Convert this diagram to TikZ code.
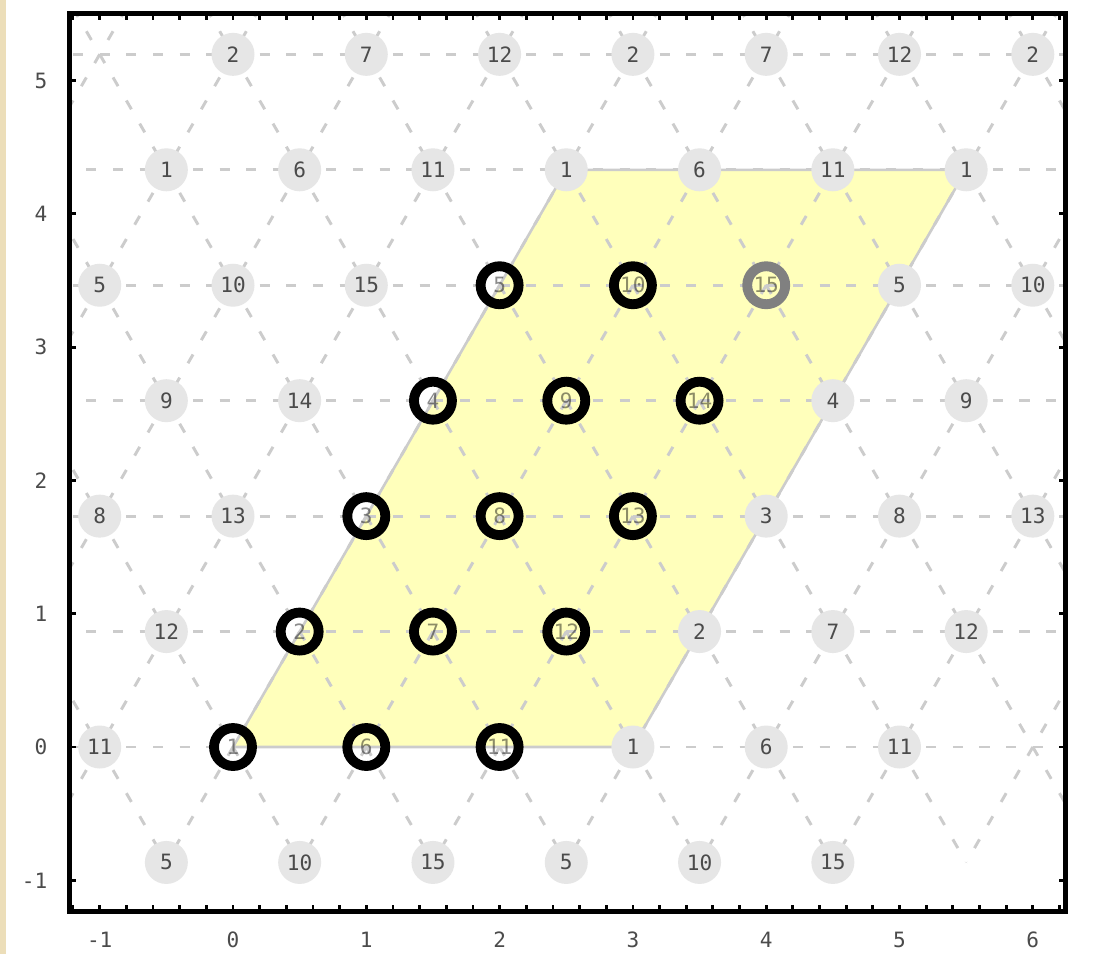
\documentclass[tikz,border=0pt]{standalone}
\usepackage{fontspec}
\newfontfamily\lblfont{DejaVu Sans Mono}
\definecolor{beige}{RGB}{236,222,185}
\definecolor{paleyellow}{RGB}{255,255,187}
\definecolor{meshgray}{RGB}{204,204,204}
\definecolor{diskgray}{RGB}{230,230,230}
\definecolor{ringgray}{RGB}{128,128,128}
\definecolor{labelgray}{RGB}{75,75,75}
\tikzset{
  mesh/.style={draw=meshgray, line width=1.25pt, dash pattern=on 4.3pt off 7.08pt},
  cellborder/.style={draw=meshgray, line width=1.1pt},
  disk/.style={circle, fill=diskgray, minimum size=0.645cm, inner sep=0pt,
    font=\lblfont\fontsize{9}{9}\selectfont, text=labelgray},
  ring/.style={circle, draw=black, line width=4.2pt, minimum size=0.57cm, inner sep=0pt,
    font=\lblfont\fontsize{9}{9}\selectfont, text=black, text opacity=0.45},
  grayring/.style={ring, draw=ringgray},
  tick/.style={line width=1.2pt, black},
  axlab/.style={font=\lblfont\fontsize{9}{9}\selectfont, text=labelgray, inner sep=0pt}
}
\begin{document}
\begin{tikzpicture}[x=2cm,y=2cm]
\def\sq{0.8660254}
% background and margins
\fill[white] (-1.748,-1.553) rectangle (6.489,5.604);
\useasboundingbox (-1.748,-1.553) rectangle (6.489,5.604);
\fill[beige] (-1.748,-1.553) rectangle (-1.703,5.604);
% fundamental cell
\fill[paleyellow] (0,0) -- (3,0) -- (5.5,4.330127) -- (2.5,4.330127) -- cycle;
% lattice mesh
\begin{scope}
\clip (-1.227,-1.234) rectangle (6.242,5.5);
\foreach \j in {0,...,7} {
  \foreach \i in {-6,...,8} {
    \pgfmathsetmacro\x{\i+0.5*\j}
    \pgfmathsetmacro\y{\sq*\j}
    \draw[mesh] (\x,\y) -- ++(1,0);
    \draw[mesh] (\x,\y) -- ++(-0.5,-\sq);
    \draw[mesh] (\x,\y) -- ++(0.5,-\sq);
  }
}
\end{scope}
\draw[cellborder] (0,0) -- (3,0) -- (5.5,4.330127) -- (2.5,4.330127) -- cycle;
% lattice points
\foreach \j in {-1,...,6} {
  \foreach \i in {-3,...,5} {
    \pgfmathsetmacro\x{\i+0.5*\j}
    \pgfmathsetmacro\y{\sq*\j}
    \pgfmathtruncatemacro\lab{1+mod(\j+10,5)+5*mod(\i+9,3)}
    \pgfmathtruncatemacro\isring{(\i>=0)*(\i<=2)*(\j>=0)*(\j<=4)}
    \pgfmathtruncatemacro\isgray{(\i==2)*(\j==4)}
    \pgfmathtruncatemacro\inframe{(\x>-1.22)*(\x<6.23)}
    \ifnum\inframe=1
      \ifnum\isring=1
        \ifnum\isgray=1
          \node[grayring] (p\i-\j) at (\x,\y) {\lab};
        \else
          \node[ring] (p\i-\j) at (\x,\y) {\lab};
        \fi
      \else
        \node[disk] (p\i-\j) at (\x,\y) {\lab};
      \fi
    \fi
  }
}
% frame
\draw[line width=2.1pt] (-1.227,-1.234) rectangle (6.242,5.5);
\foreach \k in {-6,...,31} {
  \pgfmathsetmacro\tx{0.2*\k}
  \draw[tick] (\tx,-1.234) -- ++(0,0.047);
  \draw[tick] (\tx,5.5) -- ++(0,-0.047);
}
\foreach \k in {-1,...,5} {
  \draw[tick] (-1.227,\k) -- ++(0.047,0);
  \draw[tick] (6.242,\k) -- ++(-0.047,0);
}
% axis labels
\foreach \k in {-1,...,6} \node[axlab] (xl\k) at (\k,-1.448) {\k};
\foreach \k in {-1,...,5} \node[axlab, anchor=east] (yl\k) at (-1.39,\k) {\k};
\end{tikzpicture}
\end{document}
